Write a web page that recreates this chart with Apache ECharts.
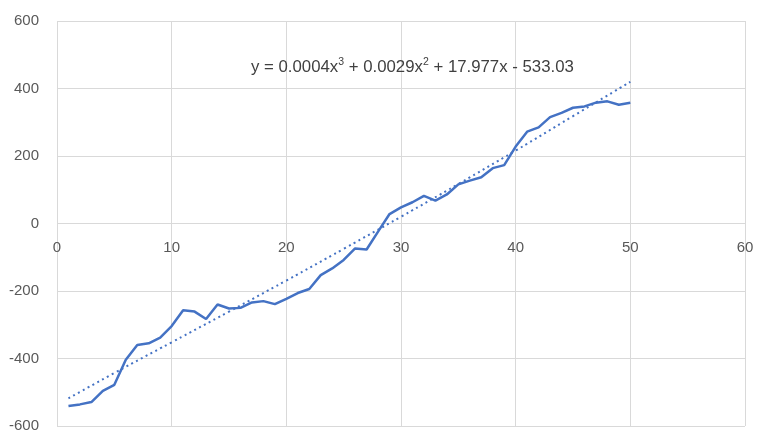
<!DOCTYPE html>
<html>
<head>
<meta charset="utf-8">
<style>
  html, body { margin: 0; padding: 0; background: #fff; }
  #chart { width: 764px; height: 438px; }
</style>
<script src="https://cdn.jsdelivr.net/npm/echarts@6/dist/echarts.min.js"></script>
</head>
<body>
<div id="chart"></div>
<script>
// x positions 1..50
var xValues = [1,2,3,4,5,6,7,8,9,10,11,12,13,14,15,16,17,18,19,20,21,22,23,24,25,
               26,27,28,29,30,31,32,33,34,35,36,37,38,39,40,41,42,43,44,45,46,47,48,49,50];
// series values
var yValues = [-541,-536,-529,-496,-478,-404,-360,-355,-338,-304,-257,-261,-283,-240,-252,
               -250,-234,-230,-239,-223,-206,-194,-153,-133,-108,-74,-77,-24,28,48,
               63,82,68,86,116,127,137,164,173,228,272,285,315,328,343,347,358,362,352,358];
// dotted trend line, read at a few x positions
var trendX = [1,5,10,15,20,25,30,35,40,45,50];
var trendY = [-518,-443,-352,-261,-169,-75,20,117,216,318,420];
var trendLabel = 'y = 0.0004x{sup|3} + 0.0029x{sup|2} + 17.977x - 533.03';

(function(){
  var chartDom = document.getElementById('chart');
  var myChart = echarts.init(chartDom);
  var gridTop = 21, gridBottom = 12;
  var plotH = 438 - gridTop - gridBottom;
  var pairs = function(xs, ys) {
    return xs.map(function(x, i) { return [x, ys[i]]; });
  };
  var option = {
    animation: false,
    textStyle: { fontFamily: 'Liberation Sans' },
    grid: { left: 57, right: 19, top: gridTop, bottom: gridBottom, containLabel: false, outerBoundsMode: 'none' },
    title: {
      text: trendLabel,
      left: 246, top: 52,
      textStyle: {
        fontSize: 16.8, fontWeight: 'normal', color: '#404040', fontFamily: 'Liberation Sans',
        lineHeight: 20,
        rich: {
          sup: { fontSize: 10.5, lineHeight: 12, verticalAlign: 'top', color: '#404040', fontFamily: 'Liberation Sans' }
        }
      }
    },
    xAxis: {
      type: 'value',
      min: 0, max: 60, interval: 10,
      // labels sit just under the y = 0 line, like the original
      offset: -plotH / 2,
      axisLine: { show: false, onZero: false },
      axisTick: { show: false },
      axisLabel: { color: '#595959', fontSize: 15, margin: 17 },
      splitLine: { show: true, lineStyle: { color: '#d9d9d9', width: 1 } }
    },
    yAxis: {
      type: 'value',
      min: -600, max: 600, interval: 200,
      axisLine: { show: false, onZero: false },
      axisTick: { show: false },
      axisLabel: { color: '#595959', fontSize: 15, margin: 18 },
      splitLine: { show: true, lineStyle: { color: '#d9d9d9', width: 1 } }
    },
    series: [
      {
        type: 'line',
        data: pairs(xValues, yValues),
        showSymbol: false,
        lineStyle: { color: '#4472c4', width: 2.5 },
        z: 3
      },
      {
        type: 'line',
        data: pairs(trendX, trendY),
        smooth: true,
        showSymbol: false,
        lineStyle: { color: '#4472c4', width: 2, type: [2, 3.5] },
        z: 2
      }
    ]
  };
  option && myChart.setOption(option);
})();
</script>
</body>
</html>
